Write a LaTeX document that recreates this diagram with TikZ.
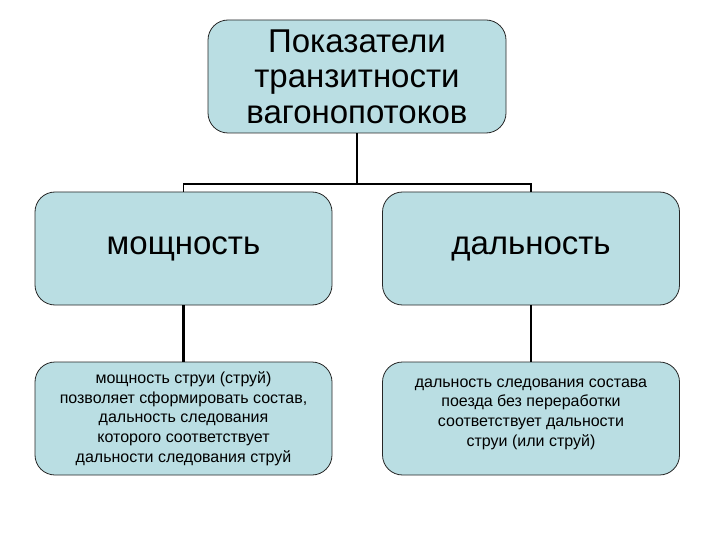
\documentclass[tikz,border=0pt]{standalone}
\usepackage{fontspec}
\setmainfont{Liberation Sans}
\definecolor{boxfill}{RGB}{186,222,227}
\begin{document}
\begin{tikzpicture}[x=1pt,y=-1pt,
  box/.style={draw=black!85,line width=0.8pt,fill=boxfill,rounded corners=20pt,
    minimum width=297pt,minimum height=113pt,align=center,inner sep=0pt},
  conn/.style={line width=1.8pt,black},
  connb/.style={line width=2.6pt,black}]
\useasboundingbox (0,0) rectangle (720,540);
\node[box,minimum width=298pt,font=\fontsize{33}{35.5}\selectfont] (top) at (357,76.5)
  {Показатели\\транзитности\\вагонопотоков};
\node[box,font=\fontsize{33}{36}\selectfont] (m1) at (183.5,248.5) {мощность};
\node[box,font=\fontsize{33}{36}\selectfont] (m2) at (531,248.5) {дальность};
\node[box,font=\fontsize{16}{19.7}\selectfont] (b1) at (183.5,418.5)
  {мощность струи (струй)\\позволяет сформировать состав,\\дальность следования\\которого соответствует\\дальности следования струй};
\node[box,font=\fontsize{16}{19.7}\selectfont,text depth=12pt] (b2) at (531,418.5)
  {дальность следования состава\\поезда без переработки\\соответствует дальности\\струи (или струй)};
\draw[conn] (top.south) -- ++(0,51) coordinate (j);
\draw[conn] (m1.north) |- (j) -| (m2.north);
\draw[connb] (m1.south) -- (b1.north);
\draw[connb] (m2.south) -- (b2.north);
\end{tikzpicture}
\end{document}
